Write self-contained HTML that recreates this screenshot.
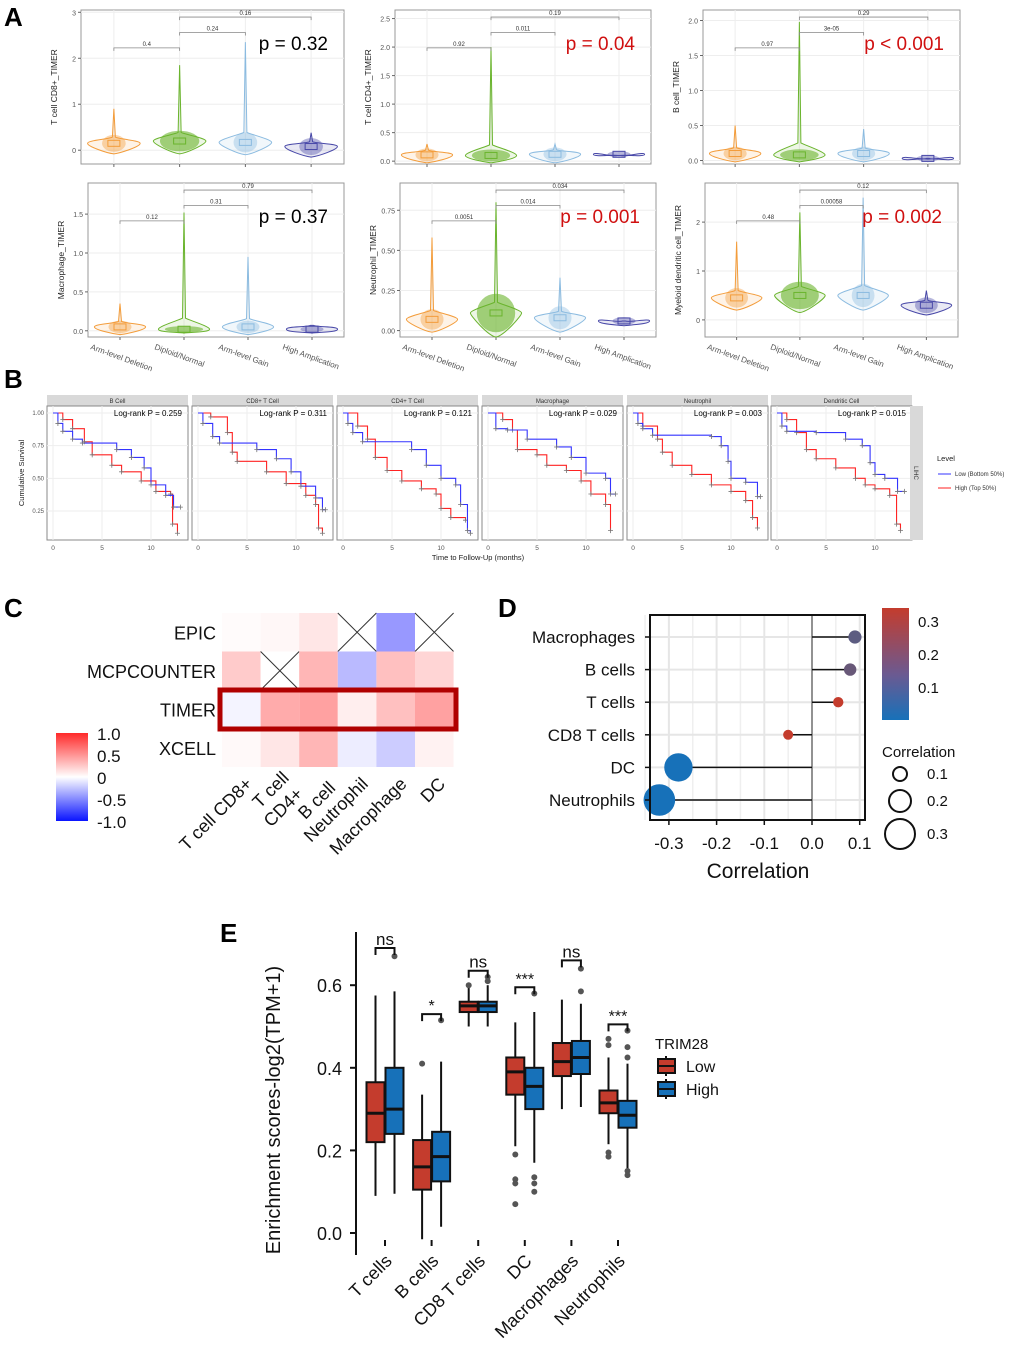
<!DOCTYPE html>
<html><head><meta charset="utf-8"><style>
html,body{margin:0;padding:0;background:#fff;}
svg{display:block;font-family:"Liberation Sans",Arial,sans-serif;}
</style></head><body>
<svg id="fig" width="1020" height="1369" viewBox="0 0 1020 1369" xmlns="http://www.w3.org/2000/svg">
<rect width="1020" height="1369" fill="#fff"/>
<text x="4" y="26" font-size="26" font-weight="bold">A</text>
<text x="4" y="388" font-size="26" font-weight="bold">B</text>
<text x="4" y="617" font-size="26" font-weight="bold">C</text>
<text x="498" y="617" font-size="26" font-weight="bold">D</text>
<text x="220" y="942" font-size="26" font-weight="bold">E</text>
<g id="gA"></g><g id="gB"></g><g id="gC"></g><g id="gD"></g><g id="gE"></g>
</svg>
<script>
// ---------- Panel A data ----------
const aGroups = ["Arm-level Deletion","Diploid/Normal","Arm-level Gain","High Amplication"];
const aTitles = ["T cell CD8+_TIMER","T cell CD4+_TIMER","B cell_TIMER","Macrophage_TIMER","Neutrophil_TIMER","Myeloid dendritic cell_TIMER"];
const aPText = ["p = 0.32","p = 0.04","p < 0.001","p = 0.37","p = 0.001","p = 0.002"];
const aPRed = [false,true,true,false,true,true];
const aTicks = [[0,1,2,3],[0,0.5,1,1.5,2,2.5],[0,0.5,1,1.5,2],[0,0.5,1,1.5],[0,0.25,0.5,0.75],[0,1,2]];
const aTickLabels = [["0","1","2","3"],["0.0","0.5","1.0","1.5","2.0","2.5"],["0.0","0.5","1.0","1.5","2.0"],["0.0","0.5","1.0","1.5"],["0.00","0.25","0.50","0.75"],["0","1","2"]];
const aYmin = [-0.3,-0.05,-0.05,-0.08,-0.04,-0.35];
const aYmax = [3.05,2.65,2.15,1.9,0.92,2.8];
const aMax = [[0.9,1.85,2.35,0.38],[0.3,2.0,0.3,0.1],[0.5,1.98,0.45,0.03],[0.35,1.52,0.95,0.07],[0.58,0.8,0.33,0.06],[1.6,2.2,2.5,0.6]];
const aMin = [[-0.08,-0.08,-0.1,-0.15],[-0.03,-0.03,-0.03,0.1],[-0.02,-0.02,-0.02,0.02],[-0.05,-0.03,-0.05,-0.03],[-0.01,-0.04,-0.01,0.03],[0.2,0.15,0.2,0.1]];
const aMed = [[0.15,0.2,0.17,0.08],[0.11,0.1,0.12,0.12],[0.1,0.08,0.1,0.03],[0.05,0.02,0.05,0.02],[0.07,0.11,0.08,0.06],[0.45,0.5,0.5,0.3]];
const aCmp = [["0.4","0.24","0.16"],["0.92","0.011","0.19"],["0.97","3e-05","0.29"],["0.12","0.31","0.79"],["0.0051","0.014","0.034"],["0.48","0.00058","0.12"]];
const aColors = ["#f39c3a","#6ab42d","#8bbbe0","#4848a8"];

// ---------- Panel B data ----------
const bTitles = ["B Cell","CD8+ T Cell","CD4+ T Cell","Macrophage","Neutrophil","Dendritic Cell"];
const bP = ["0.259","0.311","0.121","0.029","0.003","0.015"];
const bLowT = [[0,0.5,1,2,3,6.5,8,9.3,10,11.5,12.3,13],[0,0.5,1.5,2.2,6,8,9.5,10.5,12,12.7,13],[0,0.5,1,2,7,8.5,10,11.5,12,12.7,13],[0,0.8,2,4,7,8.5,10,12,12.5,13],[0,0.5,1,2,8,9,9.7,10,11.5,12.7,13],[0,0.5,1,4,7,8.7,9.5,10,11,12.3,13]];
const bLowS = [[1,0.92,0.86,0.8,0.77,0.72,0.66,0.58,0.45,0.37,0.28,0.28],[1,0.92,0.82,0.77,0.72,0.65,0.55,0.44,0.35,0.26,0.26],[1,0.92,0.85,0.78,0.72,0.6,0.5,0.45,0.3,0.1,0.08],[1,0.88,0.87,0.8,0.74,0.66,0.54,0.5,0.38,0.38],[1,0.92,0.88,0.83,0.82,0.75,0.63,0.5,0.47,0.36,0.36],[1,0.9,0.86,0.85,0.8,0.75,0.62,0.53,0.5,0.4,0.4]];
const bHighT = [[0,1,2,3.2,4,6,7,9,10.5,12,12.2,12.7],[0,1.3,3,3.5,4,7,9,11,12,12.3,12.7],[0,1.5,2.5,3.3,4.5,6,8,9.5,10,11,12.5],[0,1.5,2.5,3,5,6,8,9.5,10.5,12,12.5],[0,1,2.5,3,4,6,8,10,11.5,12.2,12.7],[0,1,2,3,4,6,8,9,10,11.5,12.2,12.6]];
const bHighS = [[1,0.95,0.88,0.78,0.68,0.6,0.55,0.48,0.4,0.38,0.15,0.08],[1,0.97,0.85,0.7,0.63,0.55,0.46,0.37,0.3,0.12,0.08],[1,0.9,0.8,0.66,0.56,0.48,0.42,0.38,0.27,0.2,0.18],[1,0.95,0.87,0.72,0.68,0.6,0.56,0.48,0.38,0.3,0.1],[1,0.9,0.8,0.7,0.6,0.53,0.45,0.4,0.33,0.2,0.12],[1,0.95,0.85,0.72,0.65,0.58,0.5,0.45,0.42,0.37,0.15,0.1]];

// ---------- Panel C data ----------
const cRows = ["EPIC","MCPCOUNTER","TIMER","XCELL"];
const cEpic = [0.02,0.04,0.12,null,-0.45,null];
const cMcp = [0.25,null,0.35,-0.3,0.3,0.2];
const cTimer = [-0.05,0.4,0.45,0.08,0.3,0.45];
const cXcell = [0.03,0.12,0.35,-0.08,-0.22,0.06];

// ---------- Panel D data ----------
const dCells = ["Macrophages","B cells","T cells","CD8 T cells","DC","Neutrophils"];
const dCorr = [0.09,0.08,0.055,-0.05,-0.28,-0.32];
const dPval = [0.12,0.14,0.3,0.3,0.0,0.0];
const dTicks = [-0.3,-0.2,-0.1,0.0,0.1];
const dTickLabels = ["-0.3","-0.2","-0.1","0.0","0.1"];

// ---------- Panel E data ----------
const eCats = ["T cells","B cells","CD8 T cells","DC","Macrophages","Neutrophils"];
const eLow = [[0.09,0.22,0.29,0.365,0.575],[-0.015,0.105,0.16,0.225,0.335],[0.5,0.535,0.55,0.56,0.6],[0.21,0.335,0.39,0.425,0.51],[0.3,0.38,0.415,0.46,0.565],[0.215,0.29,0.315,0.345,0.425]];
const eHigh = [[0.095,0.24,0.30,0.40,0.585],[0.015,0.125,0.185,0.245,0.415],[0.5,0.535,0.55,0.56,0.6],[0.17,0.3,0.355,0.4,0.535],[0.305,0.385,0.425,0.465,0.555],[0.15,0.255,0.285,0.32,0.41]];
const eOutLow = [[],[0.41],[0.6],[0.19,0.13,0.12,0.07],[],[0.47,0.455,0.195,0.185]];
const eOutHigh = [[0.67],[0.515],[0.61,0.62],[0.58,0.135,0.12,0.1],[0.585,0.64],[0.49,0.45,0.425,0.15,0.14]];
const eSig = ["ns","*","ns","***","ns","***"];
const eSigY = [0.69,0.53,0.635,0.595,0.66,0.505];
const eTicks = [0,0.2,0.4,0.6];
const eTickLabels = ["0.0","0.2","0.4","0.6"];

const NS="http://www.w3.org/2000/svg";
function el(parent,tag,attrs,text){const e=document.createElementNS(NS,tag);for(const k in attrs)e.setAttribute(k,attrs[k]);if(text!==undefined)e.textContent=text;parent.appendChild(e);return e;}

// ===== Panel A =====
(function(){
const g=document.getElementById('gA');
const boxes=[[81,10,344,164],[395,10,651,164],[703,10,960,164],[88,183,344,337],[400,183,656,337],[705,183,958,337]];
for(let p=0;p<6;p++){
  const [x0,y0,x1,y1]=boxes[p];
  const pg=el(g,'g',{});
  
  
  const ys=v=>y1-(v-aYmin[p])/(aYmax[p]-aYmin[p])*(y1-y0);
  const step=(x1-x0)/4;
  const xs=i=>x0+step*(i+0.5);
  el(pg,'rect',{x:x0,y:y0,width:x1-x0,height:y1-y0,fill:'#fff',stroke:'#999','stroke-width':1});
  aTicks[p].forEach((t,i)=>{
    el(pg,'line',{x1:x0,x2:x1,y1:ys(t),y2:ys(t),stroke:'#eee'});
    el(pg,'line',{x1:x0-3,x2:x0,y1:ys(t),y2:ys(t),stroke:'#666'});
    const tl=el(pg,'text',{x:x0-5,y:ys(t)+3,'font-size':7,fill:'#555','text-anchor':'end'},aTickLabels[p][i]);
    
    
  });
  for(let i=0;i<4;i++){
    el(pg,'line',{x1:xs(i),x2:xs(i),y1:y0,y2:y1,stroke:'#eee'});
    el(pg,'line',{x1:xs(i),x2:xs(i),y1:y1,y2:y1+3,stroke:'#666'});
    const c=aColors[i];
    const top=ys(aMax[p][i]),bot=ys(aMin[p][i]),med=ys(aMed[p][i]);
    const w=step*0.4,x=xs(i);
    const neck=Math.max(top,med-(med-top)*0.06-4);
    const d=`M${x},${bot} C${x+w*0.3},${bot-1} ${x+w},${med+3} ${x+w},${med} C${x+w},${med-3} ${x+w*0.2},${neck+2} ${x+1.5},${neck} L${x},${top} L${x-1.5},${neck} C${x-w*0.2},${neck+2} ${x-w},${med-3} ${x-w},${med} C${x-w},${med+3} ${x-w*0.3},${bot-1} ${x},${bot}Z`;
    const v=el(pg,'path',{d:d,fill:c,'fill-opacity':0.12,stroke:c,'stroke-width':1});
    
    
    el(pg,'ellipse',{cx:x,cy:med,rx:w*(i===1?0.75:0.45),ry:Math.max(3,(bot-med)*0.8),fill:c,'fill-opacity':i===1?0.6:0.4});
    el(pg,'rect',{x:x-6,y:med-3,width:12,height:6,fill:'none',stroke:c});
  }
  const brs=[[0,1,0.78],[1,2,0.88],[1,3,0.98]];
  brs.forEach((b,j)=>{
    const yb=y0+(y1-y0)*(1-b[2])+4;
    el(pg,'path',{d:`M${xs(b[0])},${yb+3}V${yb}H${xs(b[1])}V${yb+3}`,fill:'none',stroke:'#888','stroke-width':0.8});
    el(pg,'text',{x:(xs(b[0])+xs(b[1]))/2,y:yb-2,'font-size':6,'text-anchor':'middle',fill:'#333'},aCmp[p][j]);
  });
  const pt=el(pg,'text',{x:x1-16,y:y0+40,'font-size':19,'text-anchor':'end',fill:aPRed[p]?'#d01010':'#000'},aPText[p]);
  
  
  const yt=el(pg,'text',{transform:`translate(${x0-24},${(y0+y1)/2}) rotate(-90)`,'font-size':8.5,'text-anchor':'middle',fill:'#222'},aTitles[p]);
  
  
  if(p>=3){
    for(let i=0;i<4;i++){
      const xl=el(pg,'text',{transform:`translate(${xs(i)-30},${y1+12}) rotate(20)`,'font-size':8,fill:'#555'},aGroups[i]);
      
      
    }
  }
}
})();

// ===== Panel B =====
(function(){
const g=document.getElementById('gB');
const lefts=[47,192,337,482,627,771];
const pw=141, y0=406, y1=540;
const ys=s=>413+(1-s)*130.7;
for(let p=0;p<6;p++){
  const x0=lefts[p];
  const xs=t=>x0+6+t*9.8;
  const pg=el(g,'g',{});
  
  
  el(pg,'rect',{x:x0,y:395,width:pw,height:11,fill:'#d9d9d9'});
  el(pg,'text',{x:x0+pw/2,y:403,'font-size':6,'text-anchor':'middle',fill:'#333'},bTitles[p]);
  el(pg,'rect',{x:x0,y:y0,width:pw,height:y1-y0,fill:'#fff',stroke:'#888'});
  [0.25,0.5,0.75,1].forEach(s=>el(pg,'line',{x1:x0,x2:x0+pw,y1:ys(s),y2:ys(s),stroke:'#eee'}));
  [0,5,10].forEach(t=>{
    el(pg,'line',{x1:xs(t),x2:xs(t),y1:y0,y2:y1,stroke:'#eee'});
    el(pg,'text',{x:xs(t),y:y1+10,'font-size':6.5,'text-anchor':'middle',fill:'#555'},String(t));
  });
  const curve=(T,S,col,name)=>{
    let d=`M${xs(T[0])},${ys(S[0])}`;
    for(let i=1;i<T.length;i++){d+=`H${xs(T[i])}V${ys(S[i])}`;}
    const pth=el(pg,'path',{d:d,fill:'none',stroke:col,'stroke-width':1.1});
    
    
    for(let i=1;i<T.length;i++){
      el(pg,'path',{d:`M${xs(T[i])-2.5},${ys(S[i])}h5M${xs(T[i])},${ys(S[i])-2.5}v5`,stroke:'#777','stroke-width':0.8});
    }
  };
  curve(bHighT[p],bHighS[p],'#f22','km-high-curve');
  curve(bLowT[p],bLowS[p],'#33f','km-low-curve');
  el(pg,'text',{x:x0+pw-6,y:416,'font-size':8,'text-anchor':'end',fill:'#000'},'Log-rank P = '+bP[p]);
  if(p===0){
    [[1,'1.00'],[0.75,'0.75'],[0.5,'0.50'],[0.25,'0.25']].forEach(a=>el(g,'text',{x:x0-3,y:ys(a[0])+2,'font-size':6,'text-anchor':'end',fill:'#555'},a[1]));
  }
}
el(g,'rect',{x:910,y:406,width:13,height:134,fill:'#d9d9d9'});
el(g,'text',{transform:'translate(914,473) rotate(90)','font-size':6,'text-anchor':'middle',fill:'#333'},'LIHC');
el(g,'text',{transform:'translate(24,473) rotate(-90)','font-size':7.5,'text-anchor':'middle',fill:'#222'},'Cumulative Survival');
el(g,'text',{x:478,y:560,'font-size':7.5,'text-anchor':'middle',fill:'#222'},'Time to Follow-Up (months)');
const lg=el(g,'g',{});


el(lg,'text',{x:937,y:461,'font-size':7.5,fill:'#222'},'Level');
el(lg,'line',{x1:938,x2:951,y1:474,y2:474,stroke:'#33f'});
el(lg,'text',{x:955,y:476,'font-size':6,fill:'#333'},'Low (Bottom 50%)');
el(lg,'line',{x1:938,x2:951,y1:488,y2:488,stroke:'#f22'});
el(lg,'text',{x:955,y:490,'font-size':6,fill:'#333'},'High (Top 50%)');
})();

// ===== Panel C =====
(function(){
const g=document.getElementById('gC');
const rows=[cEpic,cMcp,cTimer,cXcell];
const cx0=222, cw=38.6, cy0=613, ch=38.5;
const col=v=>{
  if(v>=0){const k=Math.round(255-v*210);return `rgb(255,${k},${k})`;}
  const k=Math.round(255+v*230);return `rgb(${k},${k},255)`;
};
rows.forEach((r,ri)=>{
  r.forEach((v,ci)=>{
    const x=cx0+ci*cw,y=cy0+ri*ch;
    const c=el(g,'rect',{x:x,y:y,width:cw,height:ch,fill:v===null?'#fff':col(v)});
    
    
    if(v===null){el(g,'path',{d:`M${x},${y}L${x+cw},${y+ch}M${x+cw},${y}L${x},${y+ch}`,stroke:'#333','stroke-width':1});}
  });
  const rl=el(g,'text',{x:cx0-6,y:cy0+ri*ch+ch/2+7,'font-size':18,'text-anchor':'end',fill:'#111'},cRows[ri]);
  
  
});
const hb=el(g,'rect',{x:220,y:690,width:236,height:39,fill:'none',stroke:'#b00000','stroke-width':5});


const labs=[[["T cell CD8+",0,0]],[["T cell",-2,-6],["CD4+",12,10]],[["B cell",6,4]],[["Neutrophil",0,0]],[["Macrophage",0,0]],[["DC",0,0]]];
labs.forEach((L,i)=>{
  const x=cx0+i*cw+cw/2+12, y=785;
  L.forEach(s=>{
    const t=el(g,'text',{transform:`translate(${x+s[1]},${y+s[2]}) rotate(-45)`,'font-size':18,'text-anchor':'end',fill:'#111'},s[0]);
    
    
  });
});
const defs=el(g,'defs',{});
const lgd=el(defs,'linearGradient',{id:'cgrad',x1:0,y1:0,x2:0,y2:1});
el(lgd,'stop',{offset:'0','stop-color':'#ff2a2a'});
el(lgd,'stop',{offset:'0.5','stop-color':'#ffffff'});
el(lgd,'stop',{offset:'1','stop-color':'#0a14ff'});
const cb=el(g,'rect',{x:56,y:733,width:32,height:88,fill:'url(#cgrad)'});


[['1.0',740],['0.5',762],['0',784],['-0.5',806],['-1.0',828]].forEach(a=>el(g,'text',{x:97,y:a[1],'font-size':17,fill:'#111'},a[0]));
})();

// ===== Panel D =====
(function(){
const g=document.getElementById('gD');
const x0=650,x1=865,y0=615,y1=820;
const xs=v=>812+v*477;
const ys=i=>637+i*32.6;
dTicks.forEach(t=>{el(g,'line',{x1:xs(t),x2:xs(t),y1:y0,y2:y1,stroke:'#e6e6e6','stroke-width':2});});
[-0.35,-0.25,-0.15,-0.05,0.05].forEach(t=>el(g,'line',{x1:xs(t),x2:xs(t),y1:y0,y2:y1,stroke:'#efefef','stroke-width':1.5}));
dCells.forEach((c,i)=>el(g,'line',{x1:x0,x2:x1,y1:ys(i),y2:ys(i),stroke:'#e6e6e6','stroke-width':2}));
el(g,'line',{x1:xs(0),x2:xs(0),y1:y0,y2:y1,stroke:'#777','stroke-width':1.5});
const pc=p=>{const t=p/0.3;const a=[23,113,185],b=[196,60,45];return `rgb(${a.map((v,k)=>Math.round(v+(b[k]-v)*t)).join(',')})`;};
dCells.forEach((c,i)=>{
  el(g,'line',{x1:xs(0),x2:xs(dCorr[i]),y1:ys(i),y2:ys(i),stroke:'#111','stroke-width':1.5});
  const dot=el(g,'circle',{cx:xs(dCorr[i]),cy:ys(i),r:3+40*Math.abs(dCorr[i]),fill:pc(dPval[i])});
  
  
  el(g,'line',{x1:x0-5,x2:x0,y1:ys(i),y2:ys(i),stroke:'#111','stroke-width':1.5});
  const l=el(g,'text',{x:x0-15,y:ys(i)+6,'font-size':17,'text-anchor':'end',fill:'#111'},c);
  
  
});
el(g,'rect',{x:x0,y:y0,width:x1-x0,height:y1-y0,fill:'none',stroke:'#111','stroke-width':2});
dTicks.forEach((t,i)=>{
  el(g,'line',{x1:xs(t),x2:xs(t),y1:y1,y2:y1+5,stroke:'#111','stroke-width':1.5});
  el(g,'text',{x:xs(t),y:y1+29,'font-size':17,'text-anchor':'middle',fill:'#111'},dTickLabels[i]);
});
el(g,'text',{x:758,y:878,'font-size':21,'text-anchor':'middle',fill:'#111'},'Correlation');
const defs=el(g,'defs',{});
const lgd=el(defs,'linearGradient',{id:'dgrad',x1:0,y1:0,x2:0,y2:1});
el(lgd,'stop',{offset:'0','stop-color':'#c43c2d'});
el(lgd,'stop',{offset:'0.6','stop-color':'#6a5a92'});
el(lgd,'stop',{offset:'1','stop-color':'#1771b9'});
const cb=el(g,'rect',{x:882,y:608,width:27,height:112,fill:'url(#dgrad)'});


[['0.3',627],['0.2',660],['0.1',693]].forEach(a=>el(g,'text',{x:918,y:a[1],'font-size':15,fill:'#111'},a[0]));
el(g,'text',{x:882,y:757,'font-size':15,fill:'#111'},'Correlation');
[[0.1,774],[0.2,801],[0.3,834]].forEach(a=>{
  el(g,'circle',{cx:900,cy:a[1],r:3+40*a[0],fill:'none',stroke:'#111','stroke-width':2});
  el(g,'text',{x:927,y:a[1]+5,'font-size':15,fill:'#111'},String(a[0]));
});
})();

// ===== Panel E =====
(function(){
const g=document.getElementById('gE');
const ax=356;
const ys=v=>1233-v*413;
const cx=i=>385+i*46.6;
const bw=18;
el(g,'line',{x1:ax,x2:ax,y1:932,y2:1255,stroke:'#111','stroke-width':2});
eTicks.forEach((t,i)=>{
  el(g,'line',{x1:ax-6,x2:ax,y1:ys(t),y2:ys(t),stroke:'#111','stroke-width':2});
  const l=el(g,'text',{x:ax-14,y:ys(t)+7,'font-size':18,'text-anchor':'end',fill:'#111'},eTickLabels[i]);
  
  
});
el(g,'text',{transform:'translate(280,1110) rotate(-90)','font-size':20,'text-anchor':'middle',fill:'#111'},'Enrichment scores-log2(TPM+1)');
const box=(x,s,fill,outs)=>{
  const b=el(g,'g',{});
  
  
  el(b,'line',{x1:x,x2:x,y1:ys(s[0]),y2:ys(s[4]),stroke:'#111','stroke-width':2});
  el(b,'rect',{x:x-bw/2,y:ys(s[3]),width:bw,height:ys(s[1])-ys(s[3]),fill:fill,stroke:'#111','stroke-width':2});
  el(b,'line',{x1:x-bw/2,x2:x+bw/2,y1:ys(s[2]),y2:ys(s[2]),stroke:'#111','stroke-width':3});
  outs.forEach(o=>el(b,'circle',{cx:x,cy:ys(o),r:3,fill:'#555'}));
};
eCats.forEach((c,i)=>{
  box(cx(i)-9.5,eLow[i],'#c43c2d',eOutLow[i]);
  box(cx(i)+9.5,eHigh[i],'#1771b9',eOutHigh[i]);
  const yb=ys(eSigY[i]);
  el(g,'path',{d:`M${cx(i)-9.5},${yb+7}V${yb}H${cx(i)+9.5}V${yb+7}`,fill:'none',stroke:'#111','stroke-width':2});
  const s=el(g,'text',{x:cx(i),y:yb-3,'font-size':eSig[i]==='ns'?17:16,'text-anchor':'middle',fill:'#111'},eSig[i]);
  
  
  const xl=el(g,'text',{transform:`translate(${cx(i)+8},${1262}) rotate(-45)`,'font-size':18,'text-anchor':'end',fill:'#111'},c);
  
  
  el(g,'line',{x1:cx(i),x2:cx(i),y1:1240,y2:1246,stroke:'#111','stroke-width':2});
});
const lg=el(g,'g',{});


el(lg,'text',{x:655,y:1049,'font-size':15,fill:'#111'},'TRIM28');
[['Low','#c43c2d',1066],['High','#1771b9',1089]].forEach(a=>{
  el(lg,'line',{x1:666,x2:666,y1:a[2]-10,y2:a[2]+10,stroke:'#111','stroke-width':2});
  el(lg,'rect',{x:658,y:a[2]-7,width:17,height:14,fill:a[1],stroke:'#111','stroke-width':2});
  el(lg,'line',{x1:658,x2:675,y1:a[2],y2:a[2],stroke:'#111','stroke-width':2});
  el(lg,'text',{x:686,y:a[2]+6,'font-size':16,fill:'#111'},a[0]);
});
})();
</script>
</body></html>
